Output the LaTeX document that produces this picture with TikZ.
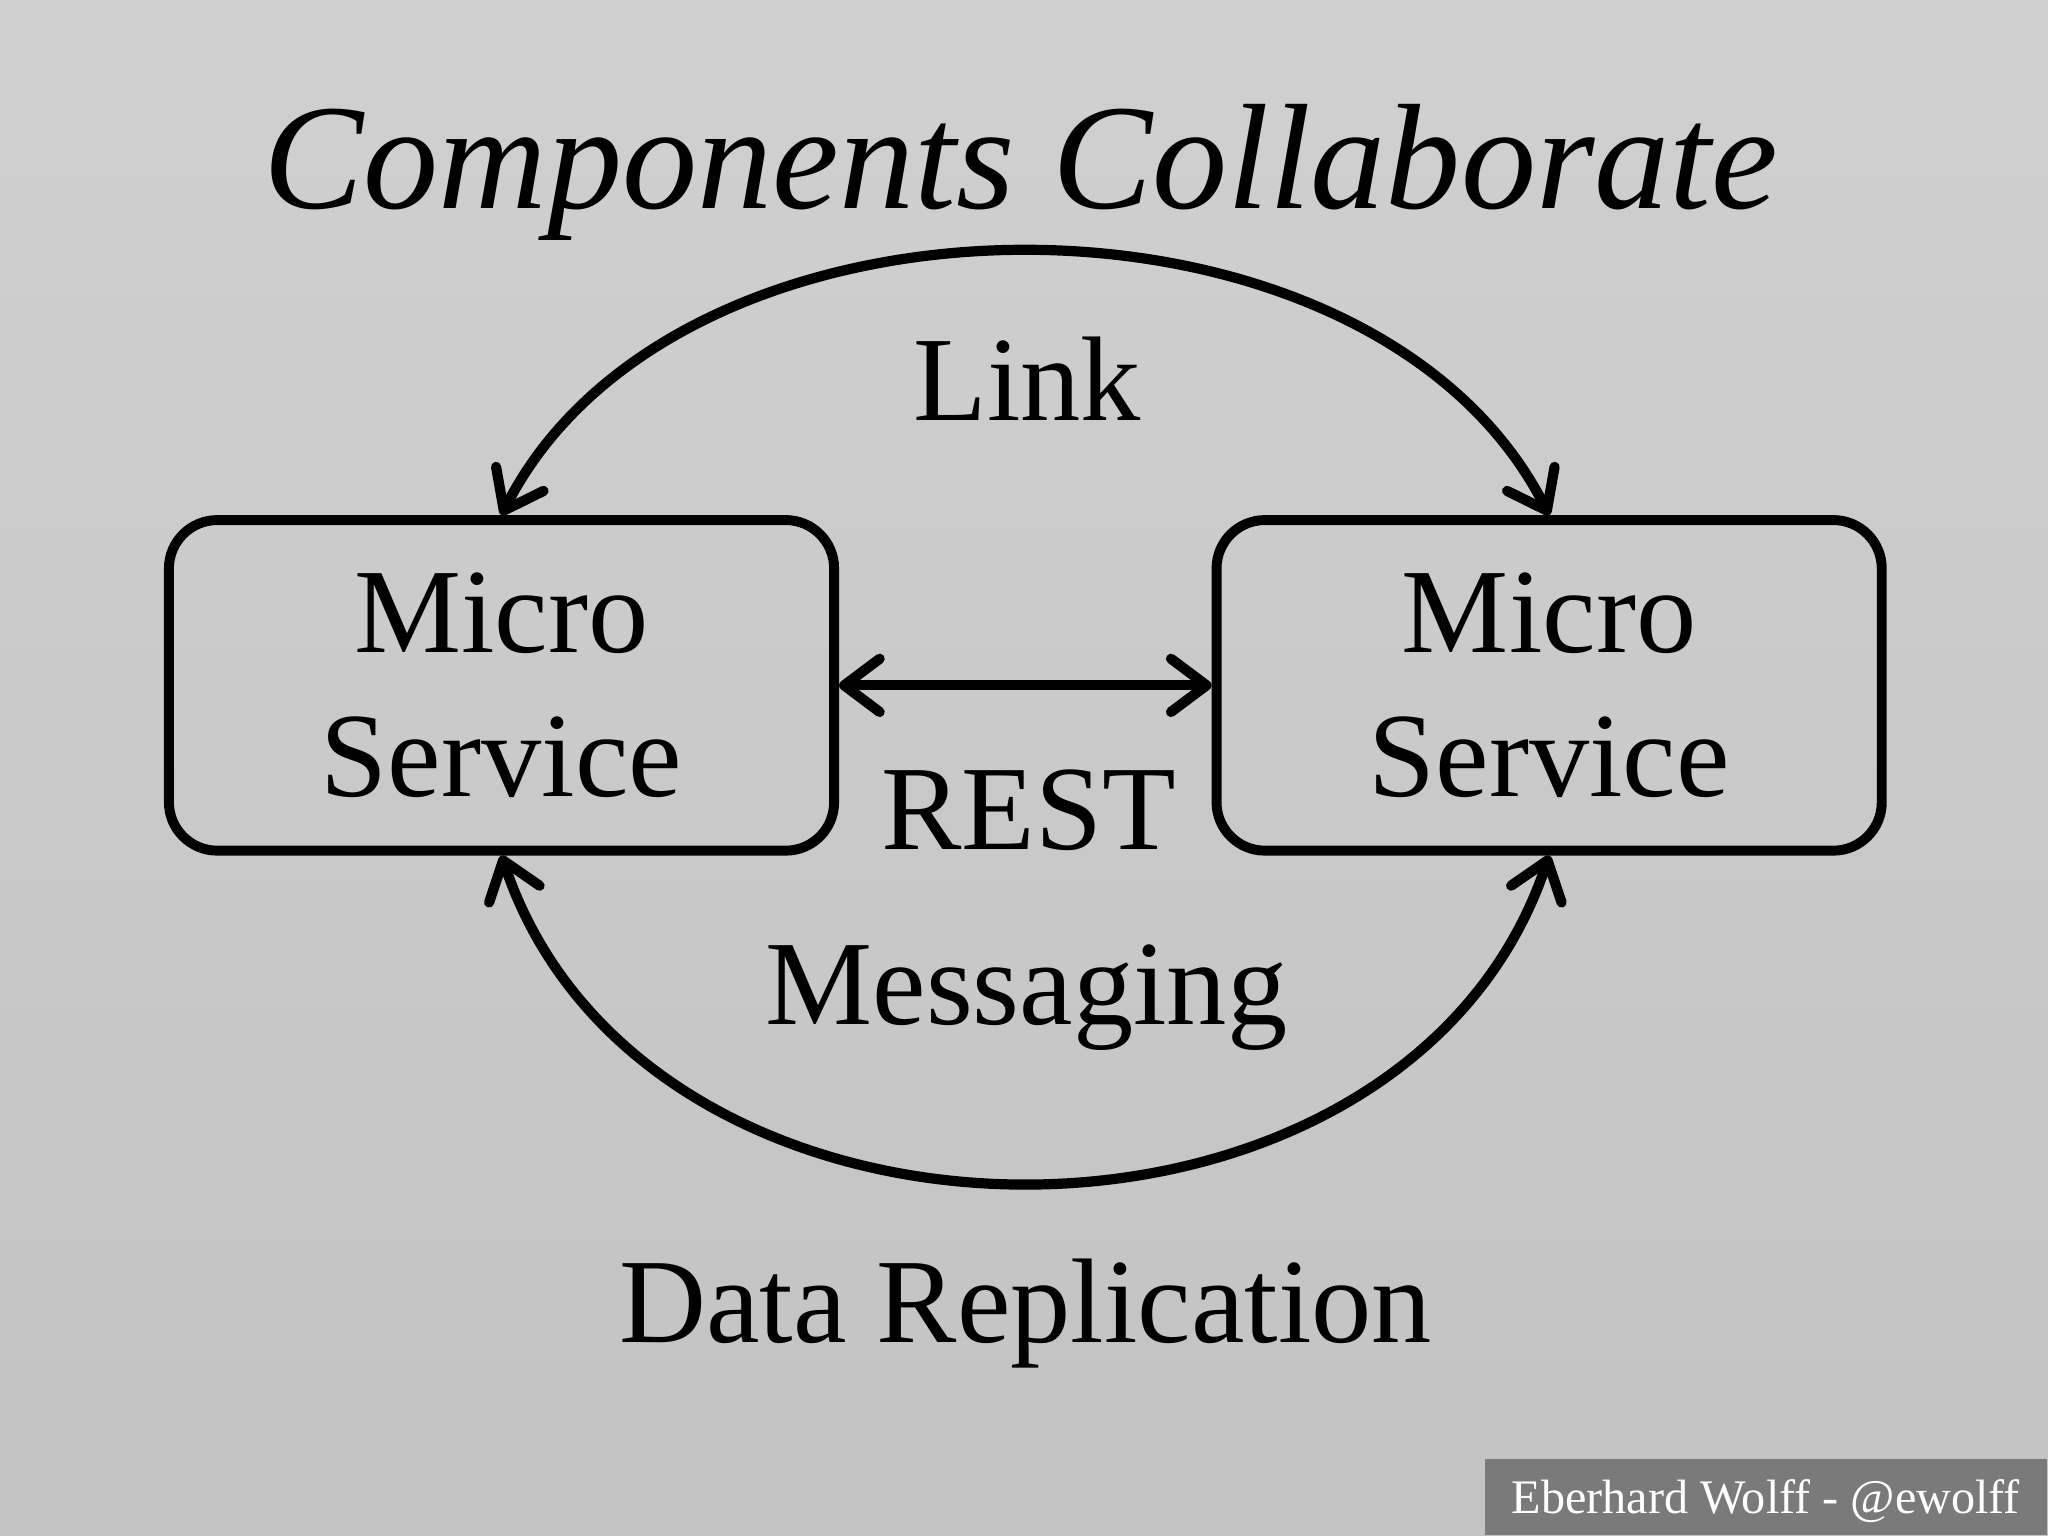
\documentclass[tikz,border=0pt]{standalone}
\usepackage{fontspec}
\setmainfont{Liberation Serif}
\usetikzlibrary{arrows.meta, positioning}
\definecolor{slidetop}{HTML}{D0D0D0}
\definecolor{slidebot}{HTML}{C3C3C3}
\definecolor{footgray}{HTML}{7A7A7A}

\begin{document}
\begin{tikzpicture}[
    every node/.style={font=\fontsize{42.5}{51}\selectfont, text=black},
    service/.style={rectangle, rounded corners=0.6cm, draw=black, line width=3.5pt,
                    minimum width=8.25cm, minimum height=4.1cm, align=center},
    lbl/.style={anchor=base},
    arrow/.style={{Straight Barb[length=0.44cm, width=0.66cm, line cap=round, line join=round]}-{Straight Barb[length=0.44cm, width=0.66cm, line cap=round, line join=round]},
                  line width=3.6pt, draw=black}
  ]
    % slide background
    \useasboundingbox (0,0) rectangle (25.4,-19.05);
    \shade[top color=slidetop, bottom color=slidebot] (0,0) rectangle (25.4,-19.05);

    \node[lbl, font=\fontsize{53}{60}\selectfont\itshape] (title) at (12.66,-2.59) {Components Collaborate};

    \node[service] (lbox) at (6.22,-8.50) {Micro\\Service};
    \node[service, right=4.62cm of lbox] (rbox) {Micro\\Service};

    \node[lbl] (link) at (12.74,-5.21) {Link};
    \node[lbl] (rest) at (12.76,-10.53) {REST};
    \node[lbl] (msg) at (12.73,-12.71) {Messaging};
    \node[lbl] (repl) at (12.72,-16.65) {Data Replication};

    \draw[arrow] (lbox.north) .. controls +(2.2,4.35) and +(-2.2,4.35) .. (rbox.north);
    \draw[arrow] (lbox.east) -- (rbox.west);
    \draw[arrow] (lbox.south) .. controls +(1.8,-5.4) and +(-1.8,-5.4) .. (rbox.south);

    % footer
    \node[fill=footgray, minimum width=6.97cm, minimum height=0.95cm, inner sep=0pt,
          anchor=south east] (foot) at (25.4,-19.05) {};
    \node[lbl, font=\fontsize{17}{20}\selectfont, text=white] (author) at (21.9,-18.77) {Eberhard Wolff - @ewolff};
  \end{tikzpicture}
\end{document}
